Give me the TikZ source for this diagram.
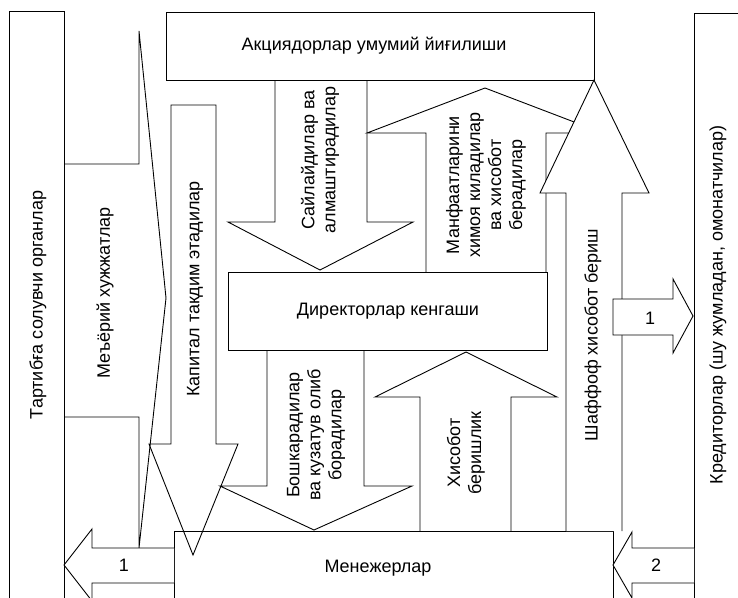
\documentclass[tikz,border=0pt]{standalone}
\usepackage{fontspec}
\setmainfont{Liberation Sans}
\tikzset{
  outline/.style={draw=black, line width=0.9pt, line join=miter},
  blockarrow/.style={outline, fill=white},
  lbl/.style={font=\fontsize{18}{21}\selectfont, align=center, inner sep=0pt},
  vlbl/.style={lbl, rotate=90}
}

\begin{document}
\begin{tikzpicture}[x=1pt, y=-1pt]
	\clip (0,0) rectangle (738,597);
	\fill[white] (0,0) rectangle (738,597);
	% boxes
	\draw[outline] (9,11) rectangle (64,620);
	\draw[outline] (694,13) rectangle (760,620);
	\draw[outline] (166,12) rectangle (594,80);
	\draw[outline] (228,272) rectangle (547,350);
	\draw[outline] (174,531) rectangle (613,620);
	%
	\draw[outline] (64,164) -- (139,164) -- (139,31) -- (166,298) -- (139,548) -- (139,417) -- (64,417);
	\draw[outline] (171,105) -- (216,105) -- (216,444) -- (238,444) -- (193,555) -- (149,444) -- (171,444) -- cycle;
	\draw[outline] (275,80) -- (275,222) -- (228,222) -- (320,270) -- (413,222) -- (367,222) -- (367,80);
	\draw[outline] (426,272) -- (426,133) -- (367,133) -- (485,88) -- (603,133) -- (546,133) -- (546,272);
	\draw[blockarrow] (566,531) -- (566,193) -- (540,193) -- (594,80) -- (649,193) -- (622,193) -- (622,531);
	\draw[blockarrow] (613,299) -- (673,299) -- (673,279) -- (693,316) -- (673,353) -- (673,335) -- (613,335) -- cycle;
	\draw[outline] (267,350) -- (267,486) -- (220,486) -- (314,530) -- (412,486) -- (364,486) -- (364,350);
	\draw[outline] (420,531) -- (420,397) -- (375,397) -- (466,352) -- (557,397) -- (511,397) -- (511,531);
	\draw[blockarrow] (174,548) -- (92,548) -- (92,529) -- (64,565) -- (92,601) -- (92,583) -- (174,583);
	\draw[blockarrow] (694,548) -- (632,548) -- (632,532) -- (613,565) -- (632,598) -- (632,583) -- (694,583);
	%
	\node[lbl] (agm) at (374,46) {Акциядорлар умумий йиғилиши};
	\node[lbl] (board) at (388,311) {Директорлар кенгаши};
	\node[lbl] (mgr) at (378,568) {Менежерлар};
	\node[vlbl] (reg) at (38,305) {Тартибға солувчи органлар};
	\node[vlbl] (cred) at (718,305) {Кредиторлар (шу жумладан, омонатчилар)};
	\node[vlbl] (norm) at (105,293) {Меъёрий хужжатлар};
	\node[vlbl] (capital) at (195,289) {Капитал такдим этадилар};
	\node[vlbl] (elect) at (320,160) {Сайлайдилар ва\\алмаштирадилар};
	\node[vlbl] (protect) at (486,185) {Манфаатларини\\химоя киладилар\\ва хисобот\\берадилар};
	\node[vlbl] (transp) at (593,335) {Шаффоф хисобот бериш};
	\node[vlbl] (manage) at (316,435) {Бошкарадилар\\ва кузатув олиб\\борадилар};
	\node[vlbl] (report) at (466,453) {Хисобот\\беришлик};
	\node[lbl] (oneleft) at (124,565) {1};
	\node[lbl] (oneright) at (650,318) {1};
	\node[lbl] (two) at (656,565) {2};
\end{tikzpicture}
\end{document}
